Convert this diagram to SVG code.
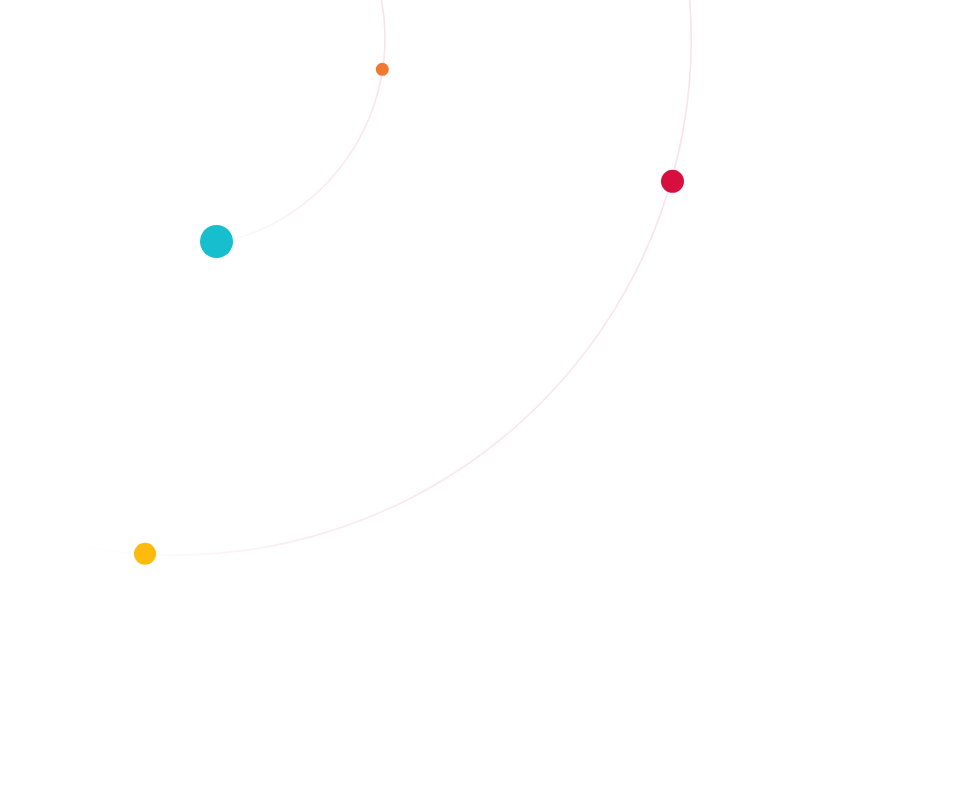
<svg xmlns="http://www.w3.org/2000/svg" width="961" height="798" viewBox="0 0 961 798">
  <defs>
    <linearGradient id="gInner" gradientUnits="userSpaceOnUse" x1="386" y1="40" x2="170" y2="250">
      <stop offset="0" stop-color="#f9e1e9" stop-opacity="1"/>
      <stop offset="0.6" stop-color="#f9e1e9" stop-opacity="0.6"/>
      <stop offset="1" stop-color="#f9e1e9" stop-opacity="0"/>
    </linearGradient>
    <linearGradient id="gOuter" gradientUnits="userSpaceOnUse" x1="691" y1="40" x2="70" y2="545">
      <stop offset="0" stop-color="#f9e1e9" stop-opacity="1"/>
      <stop offset="0.75" stop-color="#f9e1e9" stop-opacity="0.7"/>
      <stop offset="1" stop-color="#f9e1e9" stop-opacity="0"/>
    </linearGradient>
    <style>
      .arc { fill: none; stroke-width: 1.6; }
    </style>
  </defs>
  <rect width="961" height="798" fill="#ffffff"/>
  <g id="arcs">
    <path class="arc" stroke="url(#gInner)" d="M 379.4,-10 A 210 210 0 0 1 175,248"/>
    <path class="arc" stroke="url(#gOuter)" d="M 688.8,-10 A 516 516 0 0 1 60,542"/>
  </g>
  <g id="dot-orange"><circle cx="382.3" cy="69.3" r="6.5" fill="#f07832"/></g>
  <g id="dot-teal"><circle cx="216.5" cy="241.5" r="16.5" fill="#17becd"/></g>
  <g id="dot-red"><circle cx="672.5" cy="181.3" r="11.5" fill="#d80e3f"/></g>
  <g id="dot-yellow"><circle cx="145" cy="553.7" r="11" fill="#ffbb0d"/></g>
</svg>
